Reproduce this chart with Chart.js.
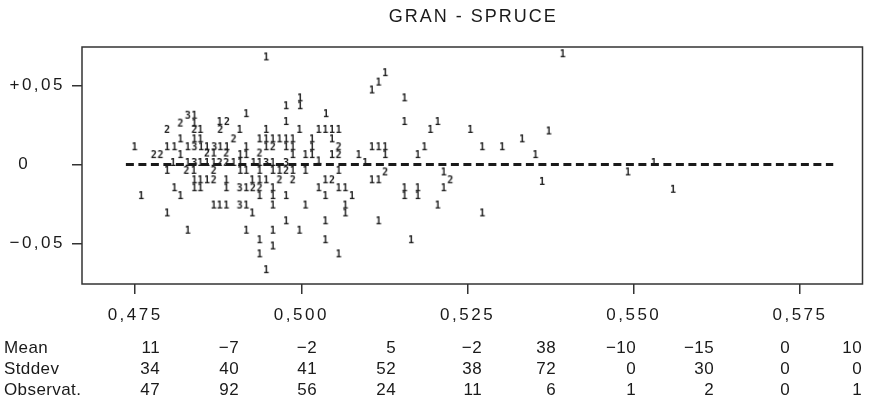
<!DOCTYPE html>
<html>
<head>
<meta charset="utf-8">
<script src="https://cdn.jsdelivr.net/npm/chart.js@4"></script>
<style>
  html, body { margin: 0; padding: 0; background: #fff; }
  canvas { display: block; }
</style>
</head>
<body>
<canvas id="chart" width="872" height="402"></canvas>
<script>
// x ticks and y ticks of the plot
const xTicks = [0.475, 0.500, 0.525, 0.550, 0.575];
const yTicks = [-0.05, 0, 0.05];

// printed points, grouped by the digit the printer put there (1, 2 or 3 hits)
const ones = [
  [0.4947, 0.068], [0.4917, 0.032], [0.4839, 0.031], [0.4839, 0.026], [0.4877, 0.027],
  [0.4977, 0.037], [0.4977, 0.027], [0.4848, 0.022], [0.4907, 0.022], [0.4947, 0.022],
  [0.4997, 0.022], [0.4818, 0.016], [0.4839, 0.016], [0.4848, 0.016], [0.4937, 0.016],
  [0.4947, 0.016], [0.4957, 0.016], [0.4967, 0.016], [0.4977, 0.016], [0.4987, 0.016],
  [0.4749, 0.011], [0.4798, 0.011], [0.4809, 0.011], [0.4829, 0.011], [0.4849, 0.011],
  [0.4858, 0.011], [0.4878, 0.011], [0.4888, 0.011], [0.4917, 0.011], [0.4947, 0.011],
  [0.4977, 0.011], [0.4987, 0.011], [0.4818, 0.006], [0.4868, 0.007], [0.4908, 0.006],
  [0.4917, 0.006], [0.4987, 0.006],
  [0.4807, 0.001], [0.4829, 0.001], [0.4848, 0.001], [0.4858, 0.001], [0.4868, 0.001],
  [0.4898, 0.001], [0.4908, 0.001], [0.4928, 0.001], [0.4937, 0.001], [0.4957, 0.001],
  [0.4798, -0.004], [0.4838, -0.004], [0.4908, -0.004], [0.4917, -0.004], [0.4937, -0.004],
  [0.4957, -0.004], [0.4967, -0.004], [0.4987, -0.004],
  [0.4839, -0.010], [0.4848, -0.010], [0.4858, -0.010], [0.4887, -0.010], [0.4926, -0.010],
  [0.4937, -0.010], [0.4947, -0.010],
  [0.4809, -0.015], [0.4839, -0.015], [0.4848, -0.015], [0.4887, -0.015], [0.4917, -0.015],
  [0.4957, -0.015],
  [0.4759, -0.020], [0.4818, -0.020], [0.4937, -0.020], [0.4957, -0.020], [0.4977, -0.020],
  [0.4868, -0.026], [0.4877, -0.026], [0.4887, -0.026], [0.4917, -0.026], [0.4957, -0.026],
  [0.4798, -0.031], [0.4926, -0.031], [0.4977, -0.036],
  [0.4829, -0.042], [0.4917, -0.042], [0.4957, -0.042], [0.4997, -0.042],
  [0.4937, -0.048], [0.4957, -0.052], [0.4937, -0.057], [0.4947, -0.067],
  [0.5126, 0.058], [0.5116, 0.052], [0.5106, 0.047], [0.4998, 0.042], [0.4998, 0.037],
  [0.5155, 0.042], [0.5037, 0.032], [0.5155, 0.027], [0.5205, 0.027],
  [0.5026, 0.022], [0.5036, 0.022], [0.5046, 0.022], [0.5056, 0.022], [0.5194, 0.022],
  [0.5254, 0.022], [0.5016, 0.016], [0.5046, 0.016],
  [0.5016, 0.011], [0.5106, 0.011], [0.5116, 0.011], [0.5126, 0.011], [0.5185, 0.011],
  [0.5272, 0.011],
  [0.5006, 0.006], [0.5016, 0.006], [0.5046, 0.006], [0.5086, 0.006], [0.5126, 0.006],
  [0.5175, 0.006], [0.5026, 0.002], [0.5096, 0.001],
  [0.5006, -0.004], [0.5056, -0.004], [0.5214, -0.005],
  [0.5036, -0.010], [0.5106, -0.010], [0.5116, -0.010],
  [0.5026, -0.015], [0.5056, -0.015], [0.5066, -0.015], [0.5155, -0.015], [0.5175, -0.015],
  [0.5214, -0.015],
  [0.5036, -0.020], [0.5076, -0.020], [0.5155, -0.020], [0.5175, -0.020],
  [0.5006, -0.026], [0.5066, -0.026], [0.5205, -0.026],
  [0.5066, -0.031], [0.5272, -0.031], [0.5036, -0.036], [0.5116, -0.036],
  [0.5036, -0.048], [0.5165, -0.048], [0.5056, -0.057],
  [0.5393, 0.070], [0.5372, 0.021], [0.5332, 0.016], [0.5302, 0.011], [0.5352, 0.006],
  [0.5530, 0.001], [0.5491, -0.005], [0.5362, -0.011], [0.5559, -0.016]
];
const twos = [
  [0.4818, 0.026], [0.4888, 0.027], [0.4798, 0.022], [0.4839, 0.022], [0.4878, 0.022],
  [0.4898, 0.016], [0.4957, 0.011], [0.4778, 0.006], [0.4788, 0.006], [0.4858, 0.007],
  [0.4887, 0.007], [0.4937, 0.007], [0.4877, 0.001], [0.4887, 0.001],
  [0.4827, -0.004], [0.4868, -0.004], [0.4977, -0.004],
  [0.4868, -0.010], [0.4967, -0.010], [0.4987, -0.010], [0.4927, -0.015], [0.4937, -0.015],
  [0.5056, 0.011], [0.5056, 0.006], [0.5126, -0.005], [0.5046, -0.010], [0.5224, -0.010]
];
const threes = [
  [0.4829, 0.031], [0.4839, 0.011], [0.4869, 0.011],
  [0.4839, 0.001], [0.4947, 0.001], [0.4977, 0.001],
  [0.4907, -0.015], [0.4907, -0.026]
];

// dashed zero line
const zeroLineX = [0.4736, 0.5800];

// table under the plot
const rowLabels = ['Mean', 'Stddev', 'Observat.'];
const meanRow = [11, -7, -2, 5, -2, 38, -10, -15, 0, 10];
const stddevRow = [34, 40, 41, 52, 38, 72, 0, 30, 0, 0];
const observRow = [47, 92, 56, 24, 11, 6, 1, 2, 0, 1];

const ink = '#1a1a1a';

function glyph(ch) {
  const c = document.createElement('canvas');
  c.width = 8;
  c.height = 12;
  const g = c.getContext('2d');
  g.fillStyle = ink;
  g.font = 'bold 10px "DejaVu Sans Mono"';
  g.textAlign = 'center';
  g.textBaseline = 'middle';
  g.fillText(ch, 4, 6.5);
  return c;
}

const toPts = arr => arr.map(p => ({ x: p[0], y: p[1] }));
const fmt = v => (v < 0 ? '\u2212' : '') + Math.abs(v);

// title, frame and the table are drawn here
const decor = {
  id: 'decor',
  beforeDraw(chart) {
    chart.ctx.letterSpacing = '2.5px';
  },
  beforeDatasetsDraw(chart) {
    const { ctx, chartArea: a } = chart;
    ctx.save();
    ctx.strokeStyle = '#333';
    ctx.lineWidth = 1.5;
    ctx.strokeRect(a.left, a.top, a.right - a.left, a.bottom - a.top);
    ctx.restore();
  },
  afterDraw(chart) {
    const { ctx, chartArea: a } = chart;
    ctx.save();
    ctx.fillStyle = ink;
    ctx.letterSpacing = '2px';
    ctx.font = '18px "Liberation Sans"';
    ctx.textAlign = 'center';
    ctx.textBaseline = 'middle';
    ctx.fillText('GRAN - SPRUCE', (a.left + a.right) / 2 + 1, 17);

    ctx.letterSpacing = '0.4px';
    ctx.font = '17px "Liberation Sans"';
    const rows = [meanRow, stddevRow, observRow];
    const rowY = [348, 369, 390];
    const colRight = [160, 239, 317, 396, 482, 556, 636, 714, 790, 862];
    rows.forEach((row, r) => {
      ctx.textAlign = 'left';
      ctx.fillText(rowLabels[r], 4, rowY[r]);
      ctx.textAlign = 'right';
      row.forEach((v, i) => ctx.fillText(fmt(v), colRight[i], rowY[r]));
    });
    ctx.restore();
  }
};

const glyphSet = (data, ch) => ({
  data: toPts(data),
  pointStyle: glyph(ch),
  pointRadius: 4,
  order: 1
});

new Chart(document.getElementById('chart'), {
  type: 'scatter',
  data: {
    datasets: [
      {
        data: zeroLineX.map(x => ({ x: x, y: 0 })),
        showLine: true,
        borderColor: ink,
        borderWidth: 3,
        borderDash: [8, 4.5],
        pointRadius: 0,
        order: 2
      },
      glyphSet(ones, '1'),
      glyphSet(twos, '2'),
      glyphSet(threes, '3')
    ]
  },
  options: {
    responsive: false,
    animation: false,
    events: [],
    layout: { padding: { top: 47, right: 9.5, left: 0, bottom: 0 } },
    plugins: {
      legend: { display: false },
      tooltip: { enabled: false }
    },
    scales: {
      x: {
        type: 'linear',
        min: 0.4670,
        max: 0.5844,
        afterFit: s => { s.height = 118; },
        afterBuildTicks: s => { s.ticks = xTicks.map(v => ({ value: v })); },
        border: { display: false },
        grid: { drawOnChartArea: false, tickLength: 10, color: '#333', lineWidth: 1.5 },
        ticks: {
          color: ink,
          padding: 11,
          font: { family: 'Liberation Sans', size: 17 },
          callback: v => v.toFixed(3).replace('.', ',')
        }
      },
      y: {
        type: 'linear',
        min: -0.0758,
        max: 0.0746,
        afterFit: s => { s.width = 82; },
        afterBuildTicks: s => { s.ticks = yTicks.map(v => ({ value: v })); },
        border: { display: false },
        grid: { drawOnChartArea: false, tickLength: 10, color: '#333', lineWidth: 1.5 },
        ticks: {
          color: ink,
          padding: 7,
          font: { family: 'Liberation Sans', size: 17 },
          callback: v => v === 0 ? '0    \u2009' : (v > 0 ? '+' : '\u2212') + Math.abs(v).toFixed(2).replace('.', ',')
        }
      }
    }
  },
  plugins: [decor]
});
</script>
</body>
</html>
